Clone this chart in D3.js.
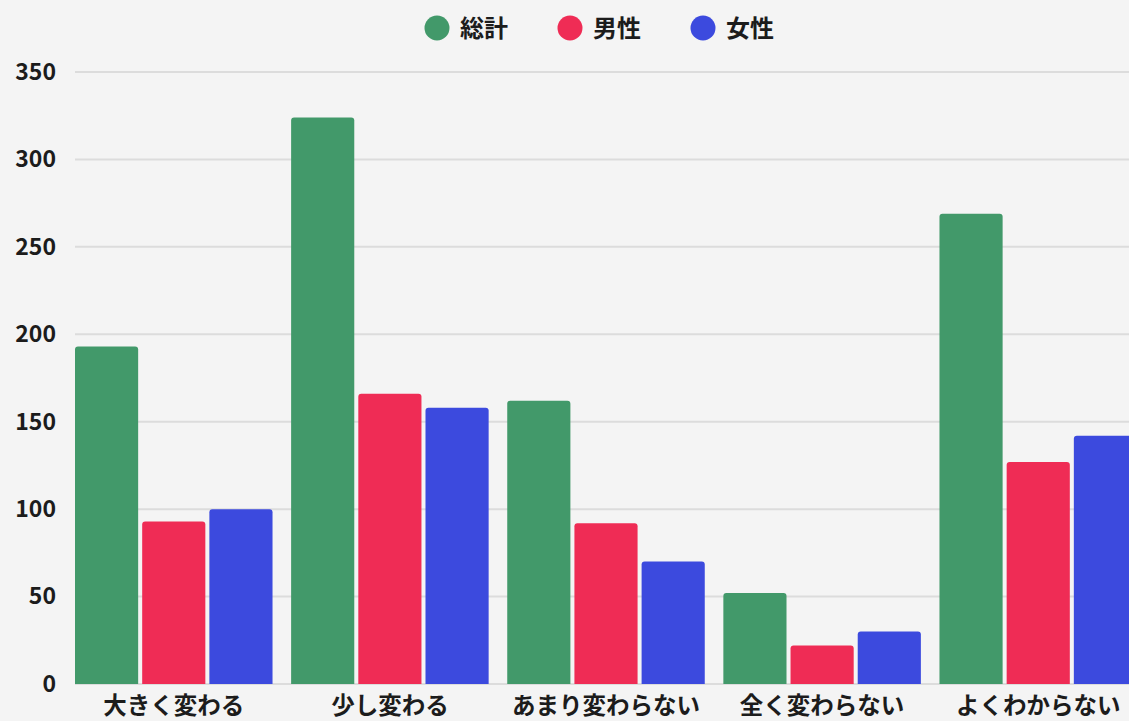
<!DOCTYPE html>
<html>
<head>
<meta charset="utf-8">
<script src="https://cdn.jsdelivr.net/npm/d3@7"></script>
<style>
  html, body { margin: 0; padding: 0; background: #f4f4f4; overflow: hidden; }
  svg { display: block; }
  text { font-family: "Noto Sans CJK JP", "Noto Sans", sans-serif; font-weight: 700; fill: #1c1c1c; }
</style>
</head>
<body>
<svg id="chart" width="1129" height="721"></svg>
<script>
// Answer categories shown along the x axis
const categories = ["大きく変わる", "少し変わる", "あまり変わらない", "全く変わらない", "よくわからない"];
// Series names (legend order)
const seriesNames = ["総計", "男性", "女性"];
// Counts per category for each series
const totalValues = [193, 324, 162, 52, 269];
const maleValues = [93, 166, 92, 22, 127];
const femaleValues = [100, 158, 70, 30, 142];
// Y axis ticks
const yTicks = [0, 50, 100, 150, 200, 250, 300, 350];

const seriesColors = ["#42996a", "#ef2c55", "#3c4ade"];
const seriesValues = [totalValues, maleValues, femaleValues];

const W = 1129, H = 721;
const svg = d3.select("#chart");

const y = d3.scaleLinear().domain([0, 350]).range([684, 72]);
const x0 = d3.scaleBand().domain(categories).range([75, 1137]).paddingInner(0.086).paddingOuter(0);
const x1 = d3.scaleBand().domain(seriesNames).range([0, x0.bandwidth()]).paddingInner(0.06).paddingOuter(0);

// Horizontal grid lines
svg.append("g")
  .selectAll("line")
  .data(yTicks)
  .join("line")
  .attr("x1", 75).attr("x2", W)
  .attr("y1", d => y(d)).attr("y2", d => y(d))
  .attr("stroke", "#dcdcdc").attr("stroke-width", 2);

// Y axis labels
const yAxis = d3.axisLeft(y).tickValues(yTicks).tickSize(0).tickPadding(0);
svg.append("g")
  .attr("transform", "translate(56,0)")
  .call(yAxis)
  .call(g => g.select(".domain").remove())
  .call(g => g.selectAll("text")
    .attr("font-size", 23)
    .attr("font-family", "'Noto Sans', 'Noto Sans CJK JP', sans-serif")
    .attr("font-weight", 700)
    .attr("fill", "#1c1c1c"));

// Bars with slightly rounded tops
function barPath(x, yTop, w, yBase, r) {
  r = Math.min(r, (yBase - yTop) / 2, w / 2);
  return `M${x},${yBase}V${yTop + r}Q${x},${yTop} ${x + r},${yTop}H${x + w - r}Q${x + w},${yTop} ${x + w},${yTop + r}V${yBase}Z`;
}

const rows = categories.map((c, i) => ({
  cat: c,
  items: seriesNames.map((s, j) => ({ s, v: seriesValues[j][i], color: seriesColors[j] }))
}));

svg.append("g")
  .selectAll("g")
  .data(rows)
  .join("g")
  .attr("transform", d => `translate(${x0(d.cat)},0)`)
  .selectAll("path")
  .data(d => d.items)
  .join("path")
  .attr("d", d => barPath(x1(d.s), y(d.v), x1.bandwidth(), y(0), 3))
  .attr("fill", d => d.color);

// X axis labels
const xAxis = d3.axisBottom(x0).tickSize(0).tickPadding(0);
svg.append("g")
  .attr("transform", `translate(0,${y(0)})`)
  .call(xAxis)
  .call(g => g.select(".domain").remove())
  .call(g => g.selectAll("text")
    .attr("dy", null)
    .attr("y", 30)
    .attr("font-size", 23.5)
    .attr("font-family", "'Noto Sans CJK JP', sans-serif")
    .attr("font-weight", 700)
    .attr("fill", "#1c1c1c"));

// Legend
const legendX = [437, 570, 703];
const legend = svg.append("g")
  .selectAll("g")
  .data(seriesNames)
  .join("g")
  .attr("transform", (d, i) => `translate(${legendX[i]},28)`);
legend.append("circle").attr("r", 12.5).attr("fill", (d, i) => seriesColors[i]);
legend.append("text")
  .attr("x", 23).attr("y", 0)
  .attr("dy", "0.36em")
  .attr("font-size", 24)
  .text(d => d);
</script>
</body>
</html>
